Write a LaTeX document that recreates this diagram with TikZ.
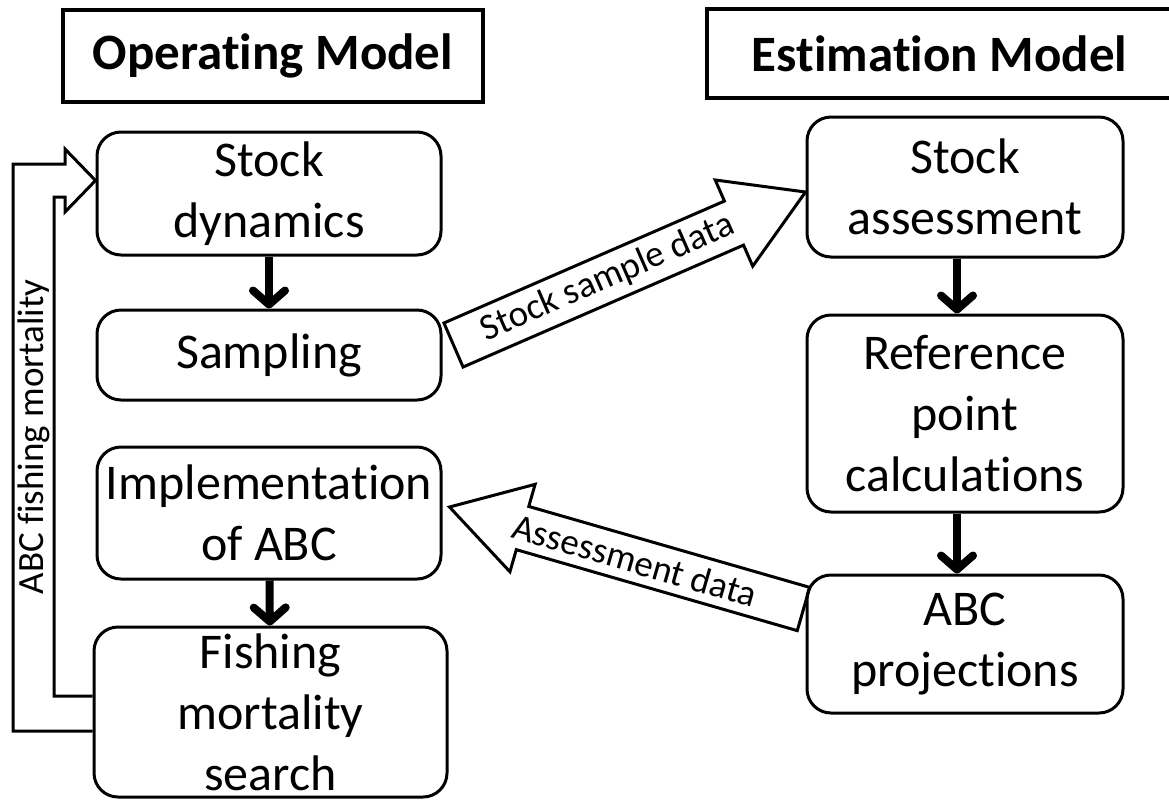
\documentclass[tikz,border=0pt]{standalone}
\usepackage{fontspec}
\setmainfont[RawFeature={-liga,-clig,-calt,-dlig}]{Carlito}
\usepackage{tikz}
\usetikzlibrary{calc, positioning}
\usetikzlibrary{arrows.meta}
\tikzset{>=stealth}
\tikzset{
  stepbox/.style={draw, line width=3pt, rounded corners=24pt, align=center, inner sep=0pt, font=\fontsize{50}{61}\selectfont},
  titlebox/.style={draw, line width=3.5pt, inner sep=0pt, font=\fontsize{51}{61}\selectfont\bfseries},
  flow/.style={line width=8pt, -{Straight Barb[length=14pt, width=32pt, round]}},
  hollow/.style={draw, line width=3pt, line join=miter},
  arrowlabel/.style={font=\fontsize{37}{44}\selectfont, inner sep=0pt},
}

\begin{document}
\begin{tikzpicture}[x=1pt, y=-1pt]
  \clip (0,0) rectangle (1169,801);
  % titles
  \node[titlebox, minimum width=420pt, minimum height=92pt] (om) at (273,56) {Operating Model};
  \node[titlebox, minimum width=465pt, minimum height=89pt] (em) at (939.5,53.5) {Estimation Model};
  % operating model
  \node[stepbox, minimum width=344pt, minimum height=123pt] (sd) at (269,193.5) {Stock\\dynamics};
  \node[stepbox, minimum width=344pt, minimum height=90pt] (samp) at (269,355) {Sampling};
  \node[stepbox, minimum width=344pt, minimum height=132pt] (impl) at (269,513) {Implementation\\of ABC};
  \node[stepbox, minimum width=353pt, minimum height=170pt] (fish) at (270.5,712) {Fishing\\mortality\\search};
  % estimation model
  \node[stepbox, minimum width=316pt, minimum height=140pt] (sa) at (965,187) {Stock\\assessment};
  \node[stepbox, minimum width=316pt, minimum height=197pt] (rp) at (965,413.5) {Reference\\point\\calculations};
  \node[stepbox, minimum width=316pt, minimum height=138pt] (abc) at (965,644) {ABC\\projections};

  \draw[flow] (sd) -- (samp);
  \draw[flow] (impl) -- (fish);
  \draw[flow] ([xshift=-8pt]sa.south) -- ([xshift=-8pt]rp.north);
  \draw[flow] ([xshift=-8pt]rp.south) -- ([xshift=-8pt]abc.north);

  % stock sample data
  \coordinate (ssT) at ($(samp.east)+(11,-10)$);
  \coordinate (ssH) at ($(sa.west)+(0,5)$);
  \coordinate (ssB) at ($(ssH)!78pt!(ssT)$);
  \draw[hollow] ($(ssT)!24pt!90:(ssH)$) -- ($(ssB)!24pt!90:(ssH)$) -- ($(ssB)!47pt!90:(ssH)$)
    -- (ssH) -- ($(ssB)!47pt!-90:(ssH)$) -- ($(ssB)!24pt!-90:(ssH)$) -- ($(ssT)!24pt!-90:(ssH)$) -- cycle;
  \path (ssT) -- (ssB) node[arrowlabel, pos=0.55, sloped] (ssl) {Stock sample data};

  % assessment data
  \coordinate (adT) at ($(abc.west)+(-2,-35)$);
  \coordinate (adH) at ($(impl.east)+(7,-6)$);
  \coordinate (adB) at ($(adH)!76pt!(adT)$);
  \draw[hollow] ($(adT)!22.5pt!90:(adH)$) -- ($(adB)!22.5pt!90:(adH)$) -- ($(adB)!45.5pt!90:(adH)$)
    -- (adH) -- ($(adB)!45.5pt!-90:(adH)$) -- ($(adB)!22.5pt!-90:(adH)$) -- ($(adT)!22.5pt!-90:(adH)$) -- cycle;
  \path (adT) -- (adB) node[arrowlabel, pos=0.6, sloped] (adl) {Assessment data};

  % feedback
  \draw[hollow] ($(fish.west)+(0,19)$) -- (13,731) -- (13,164) -- (65,164) -- (65,149)
    -- ($(sd.west)+(0,-13)$) -- (65,212) -- (65,197) -- (54,197) -- (54,696) -- ($(fish.west)+(0,-16)$);
  \node[arrowlabel, rotate=90] (fm) at (34,437) {ABC fishing mortality};
\end{tikzpicture}
\end{document}
